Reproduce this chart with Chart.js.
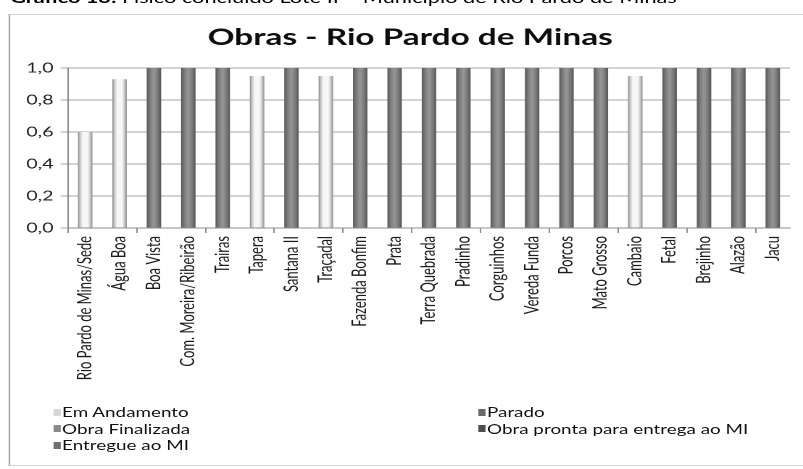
<!DOCTYPE html>
<html lang="pt-BR">
<head>
<meta charset="utf-8">
<title>Obras - Rio Pardo de Minas</title>
<script src="https://cdn.jsdelivr.net/npm/chart.js@4/dist/chart.umd.min.js"></script>
<style>
  html, body { margin: 0; padding: 0; background: #fff; overflow: hidden; }
  body { width: 803px; height: 469px; position: relative; }
  /* the whole figure is laid out narrow and widened horizontally */
  #wrap { position: absolute; left: 0; top: 0; width: 554px; height: 469px;
          transform: scaleX(1.44946); transform-origin: 0 0; }
  #caption { position: absolute; left: 7px; top: -10px; white-space: nowrap;
             font: 15px/15px Lato, sans-serif; color: #000; }
  #caption b { font-weight: 700; }
  #frame { position: absolute; left: 5.5px; top: 14px; width: 600px; height: 450px;
           border-left: 1px solid #a8a8a8; border-top: 1px solid #d2d2d2;
           border-bottom: 1px solid #d2d2d2; }
  #box { position: absolute; left: 0; top: 0; width: 554px; height: 469px; }
  #legend { position: absolute; left: 0; top: 0; width: 554px; height: 469px;
            font: 13px Lato, sans-serif; color: #111; pointer-events: none; }
  .lg-item { position: absolute; white-space: nowrap; line-height: 16px; }
  .lg-box { position: absolute; width: 5px; height: 7px; }
</style>
</head>
<body>
<div id="wrap">
  <div id="caption"><b>Gráfico 13:</b> Físico concluído Lote II – Município de Rio Pardo de Minas</div>
  <div id="frame"></div>
  <div id="box"><canvas id="chart"></canvas></div>
  <div id="legend"></div>
</div>
<script>
// Localidades (eixo das categorias)
const categories = [
  'Rio Pardo de Minas/Sede', 'Água Boa', 'Boa Vista', 'Com. Moreira/Ribeirão',
  'Trairas', 'Tapera', 'Santana II', 'Traçadal', 'Fazenda Bonfim', 'Prata',
  'Terra Quebrada', 'Pradinho', 'Corguinhos', 'Vereda Funda', 'Porcos',
  'Mato Grosso', 'Cambaio', 'Fetal', 'Brejinho', 'Alazão', 'Jacu'
];

// Situação física de cada obra (fração concluída)
const emAndamento = [0.6, 0.93, null, null, null, 0.95, null, 0.95, null, null,
                     null, null, null, null, null, null, 0.95, null, null, null, null];
const parado = [];
const obraFinalizada = [null, null, 1, 1, 1, null, 1, null, 1, 1,
                        1, 1, 1, 1, 1, 1, null, 1, 1, 1, 1];
const obraPronta = [];
const entregueAoMI = [];

// Rótulos do eixo vertical
const yTickValues = [0, 0.2, 0.4, 0.6, 0.8, 1.0];

const seriesNames = ['Em Andamento', 'Parado', 'Obra Finalizada',
                     'Obra pronta para entrega ao MI', 'Entregue ao MI'];

const chartTitle = 'Obras - Rio Pardo de Minas';

const BAR_PCT = 0.42;

// cylinder-like shading across each bar
function shaded(stops) {
  return (ctx) => {
    const chart = ctx.chart;
    const xs = chart.scales && chart.scales.x;
    if (ctx.type !== 'data' || !xs || !chart.chartArea) return stops[2][1];
    const cx = xs.getPixelForValue(ctx.dataIndex);
    const half = (xs.width / categories.length) * BAR_PCT / 2;
    const g = chart.ctx.createLinearGradient(cx - half, 0, cx + half, 0);
    stops.forEach(([o, c]) => g.addColorStop(o, c));
    return g;
  };
}

const lightStops = [[0, '#8a8a8a'], [0.14, '#c4c4c4'], [0.32, '#f7f7f7'], [0.68, '#f7f7f7'], [0.86, '#c4c4c4'], [1, '#8a8a8a']];
const darkStops  = [[0, '#585858'], [0.25, '#7e7e7e'], [0.5, '#969696'], [0.75, '#7c7c7c'], [1, '#545454']];

const legendColors = ['#d6d6d6', '#6a6a6a', '#8a8a8a', '#4e4e4e', '#707070'];

const seriesData = [emAndamento, parado, obraFinalizada, obraPronta, entregueAoMI];
const seriesFill = [shaded(lightStops), '#6a6a6a', shaded(darkStops), '#4e4e4e', '#707070'];

const datasets = seriesNames.map((name, i) => ({
  label: name,
  data: seriesData[i],
  backgroundColor: seriesFill[i],
  borderWidth: 0,
  barPercentage: BAR_PCT,
  categoryPercentage: 1
}));

Chart.defaults.font.family = 'Lato, sans-serif';

// chart heading, centred over the plot
const headingPlugin = {
  id: 'heading',
  afterDraw(chart) {
    const c = chart.ctx;
    c.save();
    c.font = 'bold 23px Lato, sans-serif';
    c.fillStyle = '#0d0d0d';
    c.textAlign = 'center';
    c.textBaseline = 'middle';
    c.fillText(chartTitle, 283, 37.8);
    c.restore();
  }
};

const chart = new Chart(document.getElementById('chart'), {
  type: 'bar',
  data: { labels: categories, datasets },
  plugins: [headingPlugin],
  options: {
    responsive: true,
    maintainAspectRatio: false,
    devicePixelRatio: 2,
    animation: false,
    layout: { padding: { left: 0, right: 9, top: 68, bottom: 0 } },
    plugins: {
      legend: { display: false },
      tooltip: { enabled: false },
      title: { display: false }
    },
    scales: {
      x: {
        stacked: true,
        offset: true,
        border: { display: true, color: '#8c8c8c', width: 1 },
        grid: {
          offset: true,
          drawOnChartArea: false,
          drawTicks: true,
          tickLength: 5,
          color: (c) => (c.index % 2 === 0 ? '#8c8c8c' : 'rgba(0,0,0,0)')
        },
        ticks: {
          autoSkip: false,
          minRotation: 90,
          maxRotation: 90,
          padding: 3,
          color: '#1a1a1a',
          font: { size: 13 }
        },
        afterFit: (s) => { s.height = 241; }
      },
      y: {
        stacked: true,
        min: 0,
        max: 1,
        afterBuildTicks: (s) => { s.ticks = yTickValues.map(v => ({ value: v })); },
        border: { display: true, color: '#8c8c8c', width: 1 },
        grid: { color: '#a6a6a6', lineWidth: 1, drawTicks: true, tickLength: 5 },
        ticks: {
          padding: 5,
          color: '#222',
          font: { size: 13.5 },
          callback: (v) => Number(v).toFixed(1).replace('.', ',')
        },
        afterFit: (s) => { s.width = 46.9; }
      }
    }
  }
});

// Legenda em duas colunas, montada a partir das séries do gráfico
(function buildLegend() {
  const host = document.getElementById('legend');
  const colBox = [36.6, 329.8];
  const colText = [42.8, 336.0];
  const rowY = [412, 428.5, 445];
  chart.data.datasets.forEach((ds, i) => {
    const col = i % 2, row = Math.floor(i / 2);
    const box = document.createElement('div');
    box.className = 'lg-box';
    box.style.left = colBox[col] + 'px';
    box.style.top = (rowY[row] - 3.5) + 'px';
    box.style.background = legendColors[i];
    host.appendChild(box);
    const t = document.createElement('div');
    t.className = 'lg-item';
    t.style.left = colText[col] + 'px';
    t.style.top = (rowY[row] - 8) + 'px';
    t.textContent = ds.label;
    host.appendChild(t);
  });
})();
</script>
</body>
</html>
